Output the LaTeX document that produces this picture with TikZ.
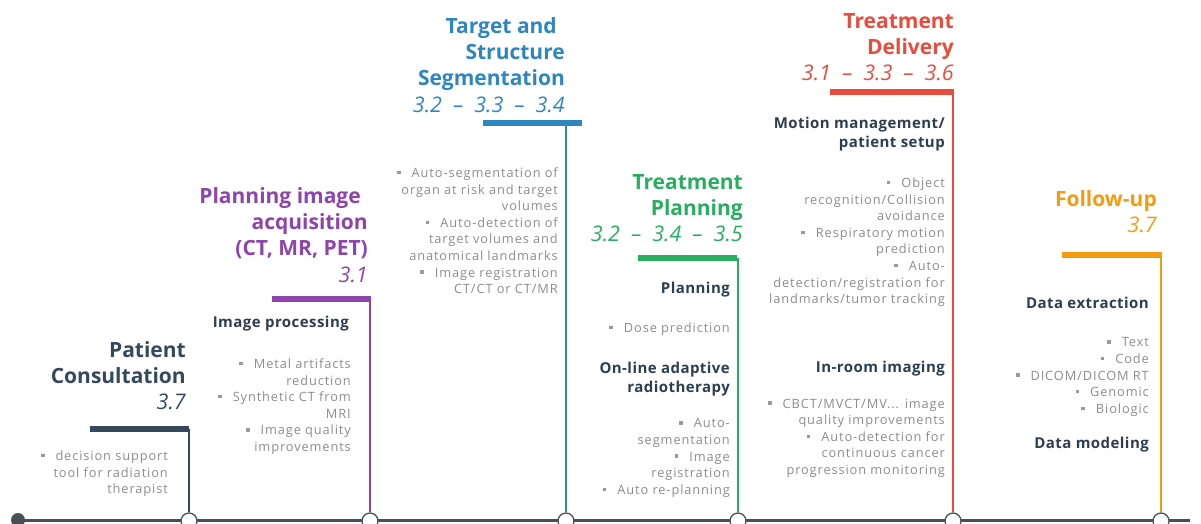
\documentclass[tikz,border=0pt]{standalone}
\usepackage{fontspec}
\setmainfont{Open Sans}
\newfontfamily\bulfont[LetterSpace=7]{Open Sans}
\newfontfamily\subfont[LetterSpace=3]{Open Sans}
\definecolor{linec}{HTML}{474F58}
\definecolor{headc}{HTML}{2C3E50}
\definecolor{graytxt}{HTML}{8C8C8C}
\definecolor{bulc}{HTML}{9A9A9A}
\definecolor{cdark}{HTML}{34495E}
\definecolor{cpurple}{HTML}{8E44AD}
\definecolor{cblue}{HTML}{2E86C1}
\definecolor{cgreen}{HTML}{27AE60}
\definecolor{cred}{HTML}{E74C3C}
\definecolor{corange}{HTML}{F39C12}
\newcommand\sqb{\textcolor{bulc}{\rule[0.25em]{3.5pt}{3.5pt}}\hspace{11pt}}
\newcommand\secnum[1]{{\mdseries\itshape\fontsize{21.5}{26.3}\selectfont #1}}
\newcommand\dsep{\hspace{11pt}–\hspace{11pt}}
\begin{document}
\begin{tikzpicture}[x=1pt,y=-1pt,
  ttl/.style={anchor=north east, align=right, inner sep=0pt,
    font=\fontsize{21}{26.3}\selectfont\bfseries},
  sub/.style={anchor=north east, align=right, inner sep=0pt, text=headc,
    font=\subfont\fontsize{15}{19.5}\selectfont\bfseries},
  bul/.style={anchor=north east, align=right, inner sep=0pt, text=graytxt,
    font=\bulfont\fontsize{12.8}{16.6}\selectfont},
  stem/.style={line width=1.6pt},
  bar/.style={line width=5.5pt},
  stop/.style={circle, draw=linec, line width=1.3pt, fill=white,
    minimum size=16pt, inner sep=0pt},
]
\useasboundingbox (0,0) rectangle (1201,524);

% timeline
\node[circle, fill=linec, minimum size=14pt, inner sep=0pt] (t0) at (18,520) {};
\coordinate (tend) at (1190,520);
\draw[linec, line width=3pt] (t0.center) -- (tend);

% stops on the timeline
\node[stop] (s1) at (189,521) {};
\node[stop] (s2) at (370,521) {};
\node[stop] (s3) at (566,521) {};
\node[stop] (s4) at (738,521) {};
\node[stop] (s5) at (953,521) {};
\node[stop] (s6) at (1161,521) {};

% bars and stems
\coordinate (b1l) at (90,429);   \coordinate (b1r) at (189,429);   \coordinate (v1) at (189,429);
\coordinate (b2l) at (272,299);  \coordinate (b2r) at (371,299);   \coordinate (v2) at (370,299);
\coordinate (b3l) at (483,123);  \coordinate (b3r) at (582,123);   \coordinate (v3) at (566,123);
\coordinate (b4l) at (638,258);  \coordinate (b4r) at (737,258);   \coordinate (v4) at (738,258);
\coordinate (b5l) at (830,92);   \coordinate (b5r) at (954,92);    \coordinate (v5) at (953,92);
\coordinate (b6l) at (1062,255); \coordinate (b6r) at (1162,255);  \coordinate (v6) at (1161,255);

\draw[stem, cdark]   (v1) -- (s1.north);
\draw[stem, cpurple] (v2) -- (s2.north);
\draw[stem, cblue]   (v3) -- (s3.north);
\draw[stem, cgreen]  (v4) -- (s4.north);
\draw[stem, cred]    (v5) -- (s5.north);
\draw[stem, corange] (v6) -- (s6.north);

\draw[bar, cdark]   (b1l) -- (b1r);
\draw[bar, cpurple] (b2l) -- (b2r);
\draw[bar, cblue]   (b3l) -- (b3r);
\draw[bar, cgreen]  (b4l) -- (b4r);
\draw[bar, cred]    (b5l) -- (b5r);
\draw[bar, corange] (b6l) -- (b6r);

% stage titles
\node[ttl, text=cdark] (h1) at (186,341) {Patient\\Consultation\\\secnum{3.7}};
\node[ttl, text=cpurple] (h2) at (368,187) {Planning image\hspace*{7pt}\\acquisition\\(CT, MR, PET)\\\secnum{3.1}};
\node[ttl, text=cblue] (h3) at (565,17) {Target and\hspace*{8pt}\\Structure\\Segmentation\\\secnum{3.2\dsep3.3\dsep3.4}};
\node[ttl, text=cgreen] (h4) at (743,174) {Treatment\\Planning\\\secnum{3.2\dsep3.4\dsep3.5}};
\node[ttl, text=cred] (h5) at (954,13) {Treatment\\Delivery\\\secnum{3.1\dsep3.3\dsep3.6}};
\node[ttl, text=corange] (h6) at (1157,190) {Follow-up\\\secnum{3.7}};

% sub-headings
\node[sub] (p2a) at (349,315.5) {Image processing};
\node[sub] (p4a) at (730,281.5) {Planning};
\node[sub] (p4b) at (730,361.5) {On-line adaptive\\radiotherapy};
\node[sub] (p5a) at (945,116.5) {Motion management/\\patient setup};
\node[sub] (p5b) at (945,360.5) {In-room imaging};
\node[sub] (p6a) at (1149,296.5) {Data extraction};
\node[sub] (p6b) at (1149,436.5) {Data modeling};

% bullet lists
\node[bul] (l1) at (168,450.5) {\sqb decision support\\tool for radiation\\therapist};
\node[bul] (l2) at (351,358.5) {\sqb Metal artifacts\\reduction\\\sqb Synthetic CT from\\MRI\\\sqb Image quality\\improvements};
\node[bul] (l3) at (558,167.5) {\sqb Auto-segmentation of\\organ at risk and target\\volumes\\\sqb Auto-detection of\\target volumes and\\anatomical landmarks\\\sqb Image registration\\CT/CT or CT/MR};
\node[bul] (l4a) at (730,322.5) {\sqb Dose prediction};
\node[bul] (l4b) at (730,418.5) {\sqb Auto-\\segmentation\\\sqb Image\\registration\\\sqb Auto re-planning};
\node[bul] (l5a) at (945,177.5) {\sqb Object\\recognition/Collision\\avoidance\\\sqb Respiratory motion\\prediction\\\sqb Auto-\\detection/registration for\\landmarks/tumor tracking};
\node[bul] (l5b) at (945,398.5) {\sqb CBCT/MVCT/MV... image\\quality improvements\\\sqb Auto-detection for\\continuous cancer\\progression monitoring};
\node[bul] (l6) at (1149,337.5) {\sqb Text\\\sqb Code\\\sqb DICOM/DICOM RT\\\sqb Genomic\\\sqb Biologic};
\end{tikzpicture}
\end{document}
